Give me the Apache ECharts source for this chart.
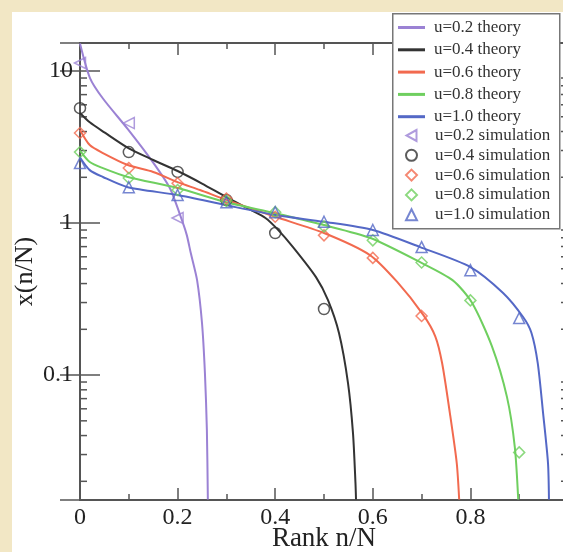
<!DOCTYPE html>
<html>
<head>
<meta charset="utf-8">
<script src="https://cdn.jsdelivr.net/npm/echarts@6/dist/echarts.min.js"></script>
<style>
  html, body { margin: 0; padding: 0; background: #f2e7c5; }
  #chart { width: 563px; height: 552px; }
</style>
</head>
<body>
<div id="chart"></div>
<script>
// theory curves
const u02TheoryX = [0, 0.0205, 0.047, 0.098, 0.15, 0.184, 0.211, 0.219, 0.227, 0.240, 0.25, 0.256, 0.26, 0.262];
const u02TheoryY = [15.2, 9.0, 6.6, 4.15, 2.5, 1.7, 1.0, 0.83, 0.635, 0.42, 0.22, 0.103, 0.0435, 0.0152];
const u04TheoryX = [0, 0.02, 0.05, 0.1, 0.15, 0.2, 0.25, 0.3, 0.35, 0.38, 0.404, 0.4365, 0.4836, 0.5082, 0.5307, 0.5492, 0.5594, 0.5645, 0.5656];
const u04TheoryY = [5.3, 4.6, 3.95, 3.1, 2.6, 2.2, 1.82, 1.48, 1.22, 1.08, 0.915, 0.695, 0.441, 0.311, 0.189, 0.0886, 0.0415, 0.0195, 0.0152];
const u06TheoryX = [0, 0.02, 0.047, 0.098, 0.15, 0.2, 0.246, 0.3, 0.4, 0.5, 0.594, 0.65, 0.703, 0.728, 0.742, 0.758, 0.772, 0.777];
const u06TheoryY = [4.1, 3.26, 2.89, 2.41, 2.17, 1.86, 1.65, 1.42, 1.10, 0.86, 0.616, 0.41, 0.25, 0.18, 0.12, 0.056, 0.0264, 0.0152];
const u08TheoryX = [0, 0.02, 0.047, 0.098, 0.2, 0.3, 0.4, 0.5, 0.594, 0.697, 0.764, 0.803, 0.844, 0.875, 0.891, 0.898];
const u08TheoryY = [3.0, 2.52, 2.30, 2.01, 1.70, 1.37, 1.16, 0.97, 0.80, 0.553, 0.42, 0.30, 0.155, 0.0716, 0.0336, 0.0152];
const u10TheoryX = [0, 0.02, 0.047, 0.098, 0.2, 0.3, 0.4, 0.5, 0.6, 0.697, 0.8, 0.867, 0.908, 0.925, 0.938, 0.949, 0.959, 0.961];
const u10TheoryY = [2.7, 2.23, 2.01, 1.72, 1.53, 1.31, 1.13, 1.02, 0.90, 0.695, 0.514, 0.347, 0.241, 0.19, 0.12, 0.056, 0.0264, 0.0152];

// simulation points at rank 0, 0.1, 0.2 ...
const simX = [0, 0.1, 0.2, 0.3, 0.4, 0.5, 0.6, 0.7, 0.8, 0.9];
const u02Sim = [11.3, 4.55, 1.08];
const u04Sim = [5.7, 2.93, 2.17, 1.42, 0.86, 0.272];
const u06Sim = [3.91, 2.30, 1.83, 1.45, 1.10, 0.83, 0.59, 0.245];
const u08Sim = [2.93, 1.98, 1.65, 1.40, 1.18, 0.95, 0.77, 0.55, 0.31, 0.031];
const u10Sim = [2.48, 1.72, 1.53, 1.37, 1.18, 1.02, 0.90, 0.695, 0.49, 0.237];

const theoryNames = ["u=0.2 theory", "u=0.4 theory", "u=0.6 theory", "u=0.8 theory", "u=1.0 theory"];
const simNames = ["u=0.2 simulation", "u=0.4 simulation", "u=0.6 simulation", "u=0.8 simulation", "u=1.0 simulation"];
const colors = ["#9b82d4", "#333333", "#f26a4f", "#6fcf5f", "#5468c6"];

// log minor ticks on y
const minorY = [0.02, 0.03, 0.04, 0.05, 0.06, 0.07, 0.08, 0.09,
                0.2, 0.3, 0.4, 0.5, 0.6, 0.7, 0.8, 0.9,
                2, 3, 4, 5, 6, 7, 8, 9];

const serif = "Liberation Serif";
const axisColor = "#555";

function pairs(xs, ys) {
  return ys.map((y, i) => [xs[i], y]);
}

const theoryData = [
  pairs(u02TheoryX, u02TheoryY),
  pairs(u04TheoryX, u04TheoryY),
  pairs(u06TheoryX, u06TheoryY),
  pairs(u08TheoryX, u08TheoryY),
  pairs(u10TheoryX, u10TheoryY)
];
const simData = [u02Sim, u04Sim, u06Sim, u08Sim, u10Sim].map(s => pairs(simX, s));
const simSymbols = ["triangle", "circle", "diamond", "diamond", "triangle"];
const simRotate = [90, 0, 0, 0, 0];

let series = [];
theoryData.forEach((d, i) => {
  series.push({
    name: theoryNames[i],
    type: "line",
    data: d,
    smooth: 0.25,
    symbol: "none",
    lineStyle: { color: colors[i], width: 2 },
    itemStyle: { color: colors[i] },
    z: 2
  });
});
simData.forEach((d, i) => {
  series.push({
    name: simNames[i],
    type: "scatter",
    data: d,
    symbol: simSymbols[i],
    symbolRotate: simRotate[i],
    symbolSize: 11,
    itemStyle: { color: "rgba(255,255,255,0)", borderColor: colors[i], borderWidth: 1.5 },
    z: 3
  });
});
// minor ticks of the log axis, left and right
series.push({
  type: "custom",
  silent: true,
  data: minorY.map(v => [0, v]),
  renderItem: function(params, api) {
    const cs = params.coordSys;
    const y = api.coord([0, api.value(1)])[1];
    const st = { stroke: axisColor, lineWidth: 1.5 };
    return {
      type: "group",
      children: [
        { type: "line", shape: { x1: cs.x, y1: y, x2: cs.x + 7, y2: y }, style: st },
        { type: "line", shape: { x1: cs.x + cs.width - 7, y1: y, x2: cs.x + cs.width, y2: y }, style: st }
      ]
    };
  },
  z: 1
});

const legendText = { fontFamily: serif, fontSize: 17, color: "#333" };
// left-pointing triangle for the first simulation entry
const simLegend = simNames.map((n, i) => i === 0 ? { name: n, icon: "path://M10,0L0,5.5L10,11Z" } : n);

const chart = echarts.init(document.getElementById("chart"));
const option = {
  backgroundColor: "#f2e7c5",
  animation: false,
  graphic: [
    { type: "rect", left: 12, top: 12, shape: { width: 560, height: 545 }, style: { fill: "#ffffff" }, z: -10 },
    { type: "rect", left: 392, top: 13, shape: { width: 167, height: 215 },
      style: { fill: "#ffffff", stroke: "#777", lineWidth: 1.5 }, z: 5 }
  ],
  grid: { left: 80, top: 43, bottom: 52, right: -5, outerBoundsMode: "none", containLabel: false },
  legend: [
    {
      data: theoryNames,
      orient: "vertical",
      left: 398, top: 19,
      padding: 0,
      icon: "rect",
      itemWidth: 27, itemHeight: 3, itemGap: 5.3,
      textStyle: Object.assign({ padding: [0, 0, 0, 4] }, legendText),
      z: 6
    },
    {
      data: simLegend,
      orient: "vertical",
      left: 405, top: 127,
      padding: 0,
      itemWidth: 11, itemHeight: 11, itemGap: 2.8,
      textStyle: Object.assign({ padding: [0, 0, 0, 13] }, legendText),
      z: 6
    }
  ],
  xAxis: [
    {
      type: "value", min: 0, max: 1, interval: 0.2,
      position: "bottom",
      name: "Rank n/N", nameLocation: "middle", nameGap: 25, nameMoveOverlap: false,
      nameTextStyle: { fontFamily: serif, fontSize: 27, color: "#222" },
      axisLine: { lineStyle: { color: axisColor, width: 2 } },
      axisTick: { inside: true, length: 12, lineStyle: { color: axisColor, width: 1.5 } },
      minorTick: { show: true, splitNumber: 2, length: 6, lineStyle: { color: axisColor, width: 1.5 } },
      axisLabel: { fontFamily: serif, fontSize: 24, color: "#222", margin: 6, showMaxLabel: false },
      splitLine: { show: false }
    },
    {
      type: "value", min: 0, max: 1, interval: 0.2,
      position: "top",
      axisLine: { lineStyle: { color: axisColor, width: 2 } },
      axisTick: { inside: true, length: 12, lineStyle: { color: axisColor, width: 1.5 } },
      minorTick: { show: true, splitNumber: 2, length: 6, lineStyle: { color: axisColor, width: 1.5 } },
      axisLabel: { show: false },
      splitLine: { show: false }
    }
  ],
  yAxis: [
    {
      type: "log", logBase: 10, min: 0.01507, max: 15.3,
      position: "left",
      name: "x(n/N)", nameLocation: "middle", nameGap: 42, nameMoveOverlap: false,
      nameTextStyle: { fontFamily: serif, fontSize: 26, color: "#222" },
      axisLine: { lineStyle: { color: axisColor, width: 2 } },
      axisTick: { inside: true, length: 20, lineStyle: { color: axisColor, width: 1.5 } },
      axisLabel: { fontFamily: serif, fontSize: 24, color: "#222", margin: 7, showMinLabel: false, showMaxLabel: false },
      splitLine: { show: false }
    },
    {
      type: "log", logBase: 10, min: 0.01507, max: 15.3,
      position: "right",
      axisLine: { lineStyle: { color: axisColor, width: 2 } },
      axisTick: { inside: true, length: 20, lineStyle: { color: axisColor, width: 1.5 } },
      axisLabel: { show: false },
      splitLine: { show: false }
    }
  ],
  series: series
};
chart.setOption(option);
</script>
</body>
</html>
